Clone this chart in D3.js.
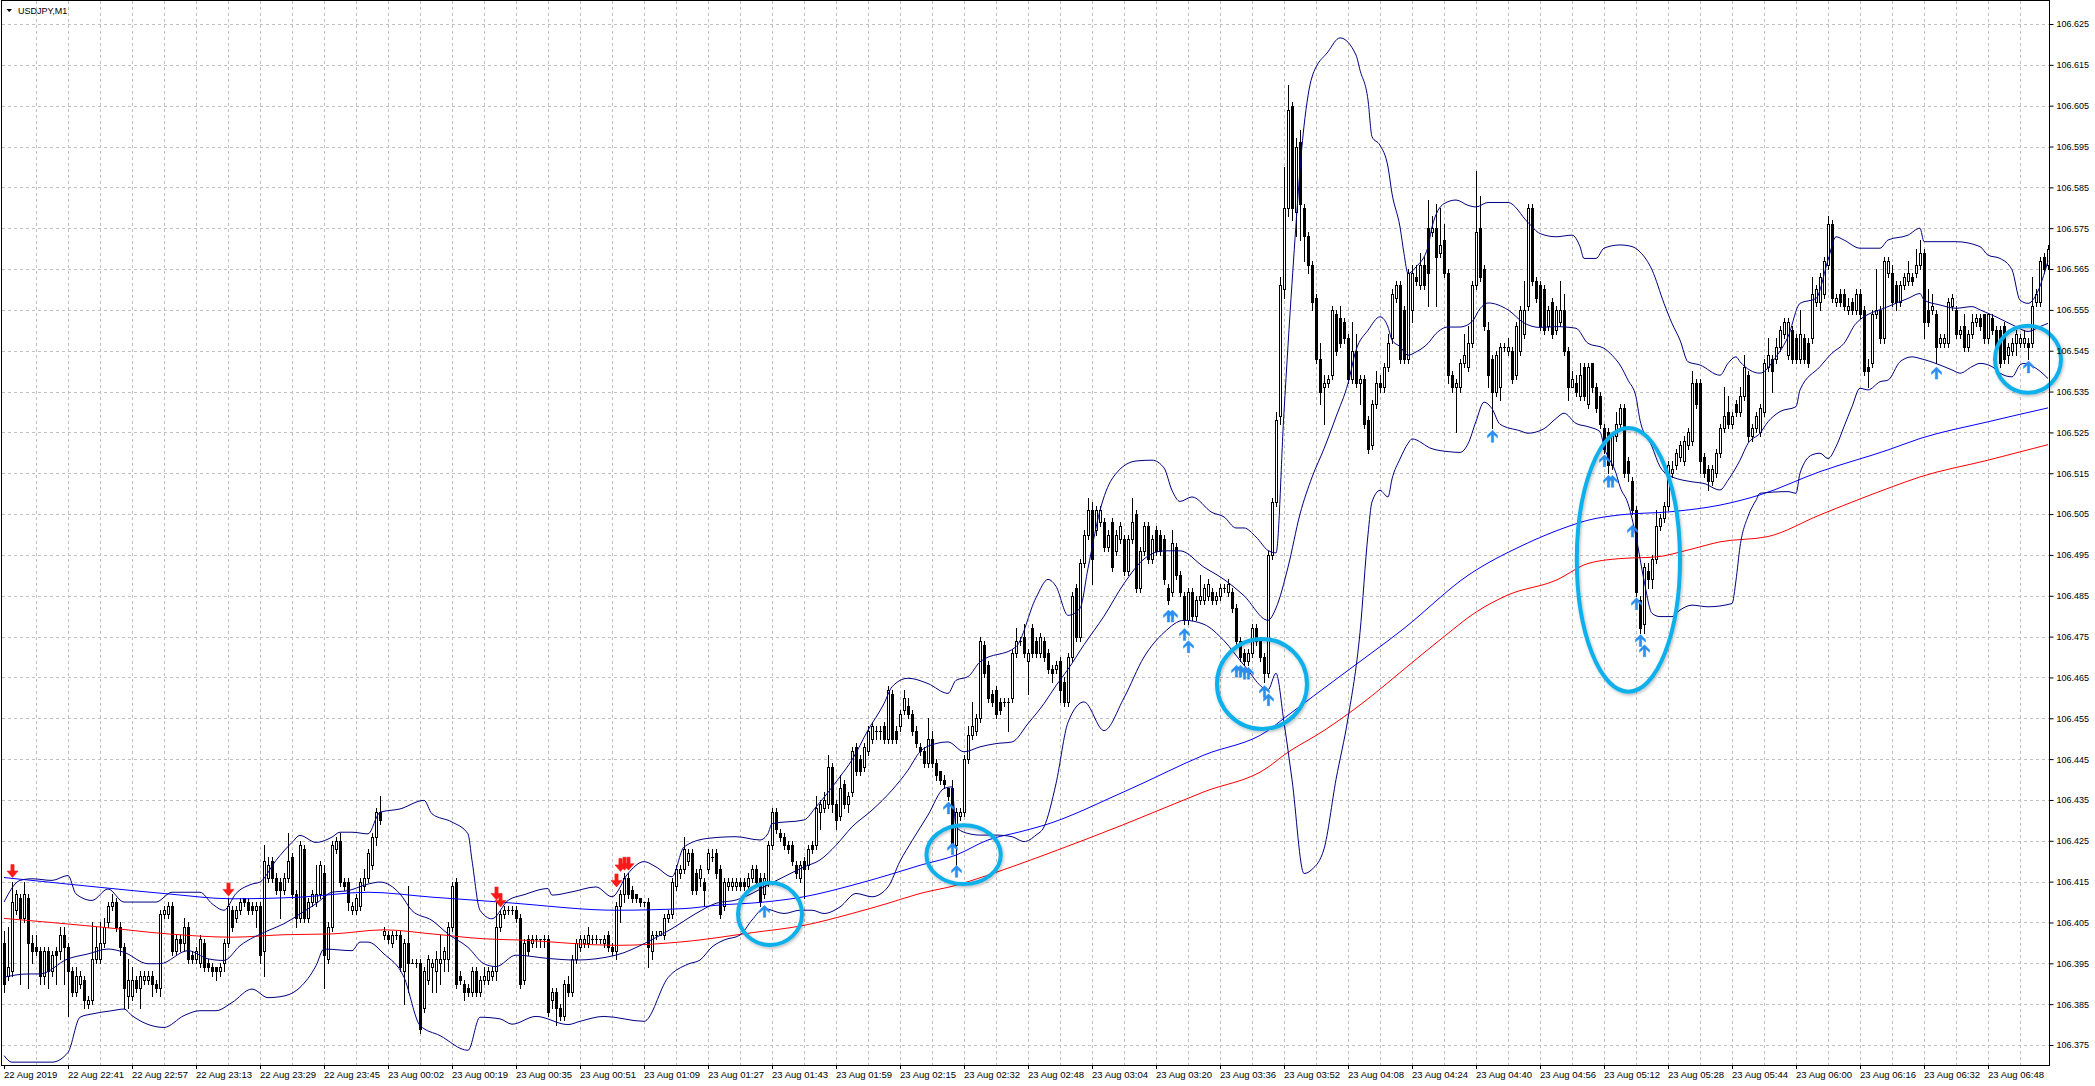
<!DOCTYPE html>
<html><head><meta charset="utf-8">
<script src="https://cdn.jsdelivr.net/npm/d3@7"></script>
<style>
html,body{margin:0;padding:0;background:#fff;overflow:hidden}
svg{display:block}
text{font-family:"Liberation Sans",Arial,sans-serif;font-size:9px;fill:#000}
.xaxis text{font-size:9.5px}
</style></head><body>
<svg id="chart" width="2095" height="1086"></svg>
<script>
// ---------------- DATA ----------------
const symbolTitle = "USDJPY,M1";
const priceBase = 106;          // candle values are in 0.001 above 106.000
const timeLabels = ["22 Aug 2019","22 Aug 22:41","22 Aug 22:57","22 Aug 23:13","22 Aug 23:29","22 Aug 23:45","23 Aug 00:02","23 Aug 00:19","23 Aug 00:35","23 Aug 00:51","23 Aug 01:09","23 Aug 01:27","23 Aug 01:43","23 Aug 01:59","23 Aug 02:15","23 Aug 02:32","23 Aug 02:48","23 Aug 03:04","23 Aug 03:20","23 Aug 03:36","23 Aug 03:52","23 Aug 04:08","23 Aug 04:24","23 Aug 04:40","23 Aug 04:56","23 Aug 05:12","23 Aug 05:28","23 Aug 05:44","23 Aug 06:00","23 Aug 06:16","23 Aug 06:32","23 Aug 06:48"];
const barsPerLabel = 16;
const priceTicks = ["106.625","106.615","106.605","106.595","106.585","106.575","106.565","106.555","106.545","106.535","106.525","106.515","106.505","106.495","106.485","106.475","106.465","106.455","106.445","106.435","106.425","106.415","106.405","106.395","106.385","106.375"];

const opens = [
400,392,393,408,411,406,411,400,399,398,392,398,393,398,398,402,
399,393,388,390,391,385,386,396,396,400,405,409,410,404,399,387,
387,391,389,391,391,392,390,389,407,407,409,398,401,400,404,397,
396,395,400,395,394,394,393,395,400,408,406,408,411,410,409,408,
409,398,416,420,416,415,413,416,421,412,406,423,406,410,410,412,
417,396,404,423,425,415,415,408,408,409,414,416,419,426,432,402,
402,400,402,402,393,400,395,395,395,384,391,394,393,395,396,396,
404,415,392,390,389,388,393,388,391,391,392,393,404,407,408,408,
408,406,391,401,400,401,401,401,401,386,388,384,382,390,388,396,
399,400,400,401,401,401,400,402,399,398,409,412,416,413,412,411,
410,410,398,402,402,402,406,407,414,417,418,420,422,417,416,415,
418,421,422,418,409,414,414,414,415,415,414,416,418,416,412,415,
424,432,427,426,424,424,419,416,420,419,424,424,432,433,434,443,
434,431,439,434,437,448,445,443,447,450,452,452,453,450,461,452,
453,457,458,456,452,448,447,444,450,444,442,440,438,438,424,431,
432,445,451,452,455,473,468,461,462,459,459,459,460,471,474,475,
469,477,474,471,474,471,467,467,469,464,459,470,487,475,493,500,
506,501,503,503,497,503,496,499,499,491,499,505,487,496,502,494,
501,500,499,487,486,497,490,485,479,486,480,484,484,485,486,484,
485,487,486,486,482,474,471,469,471,477,474,470,466,495,508,529,
560,580,605,579,596,580,573,566,558,543,536,537,539,554,553,552,
548,538,545,537,538,528,522,532,537,536,541,548,558,561,555,543,
555,563,561,566,575,574,575,569,572,564,539,536,536,542,541,547,
561,575,565,550,543,535,536,546,545,545,539,545,549,556,580,562,
561,560,551,557,550,552,555,545,536,537,534,541,532,542,536,534,
526,525,517,524,527,531,518,513,506,484,478,491,489,494,502,504,
507,515,517,519,518,522,523,537,537,519,516,513,515,520,526,530,
527,532,530,534,539,524,526,525,530,541,543,543,546,549,544,550,
548,543,548,547,548,557,557,559,566,576,557,559,559,555,557,555,
559,555,541,542,554,555,548,564,564,561,557,561,562,563,564,566,
569,555,555,554,547,547,547,556,555,549,551,546,549,552,553,554,
548,553,550,550,551,544,545,547,547,547,547,547,557,557,568,566];

const highs = [
403,404,415,413,412,415,412,402,402,399,399,399,398,399,404,404,
400,394,394,393,392,387,405,404,405,406,410,412,411,405,400,396,
394,392,393,393,393,393,391,408,409,410,410,402,402,406,405,398,
399,402,401,396,395,394,395,401,411,409,409,411,411,411,410,410,
410,424,421,421,417,416,417,427,422,413,425,424,411,413,419,420,
419,405,425,426,427,416,416,410,412,416,418,423,427,433,436,404,
403,403,403,403,401,414,396,396,396,394,397,396,398,402,399,405,
415,416,393,391,390,394,394,392,394,394,394,410,408,409,409,409,
409,407,401,402,402,402,401,402,402,389,389,385,391,392,397,401,
402,402,404,402,402,401,402,403,400,410,413,417,417,414,412,411,
410,411,403,403,403,407,408,416,419,419,426,423,423,418,419,416,
423,423,423,419,416,416,416,416,416,416,417,419,419,417,417,425,
433,433,428,427,425,425,420,420,421,424,425,436,435,437,446,444,
435,441,440,437,448,449,446,449,453,454,453,453,454,463,462,453,
457,462,460,457,453,449,448,455,452,445,442,441,438,440,433,433,
446,453,459,456,475,474,469,462,463,460,460,460,472,477,475,478,
472,478,475,476,475,472,468,469,470,465,471,486,488,494,501,509,
508,507,507,504,501,504,501,503,500,500,509,506,497,503,503,500,
502,501,500,488,501,498,491,486,487,487,485,490,488,489,487,486,
488,488,489,487,483,475,472,472,478,478,475,471,496,509,530,563,
590,610,606,597,599,581,574,567,559,547,539,539,556,555,556,553,
549,552,549,539,539,529,533,540,539,542,549,560,562,562,556,565,
566,566,569,568,582,578,581,580,576,565,540,538,543,549,551,562,
589,583,566,552,544,545,547,547,548,546,552,556,562,581,581,563,
562,561,556,558,556,562,559,546,540,539,542,542,542,542,537,535,
527,526,525,530,532,532,519,514,507,485,493,493,495,506,505,508,
518,518,521,523,524,526,540,538,538,520,517,517,521,527,536,534,
530,533,536,544,540,527,530,532,543,548,544,548,551,553,553,551,
549,555,549,548,563,561,564,568,578,577,559,560,560,558,558,560,
560,556,543,555,565,556,568,568,566,562,562,564,567,564,570,572,
570,560,559,555,549,549,558,559,556,551,554,550,554,554,554,554,
554,554,551,551,552,547,548,550,549,550,548,563,560,568,569,571];

const lows = [
388,391,392,407,390,405,389,395,397,390,390,389,392,390,396,390,
382,387,387,389,384,384,385,395,395,399,404,408,403,397,384,384,
386,388,384,390,390,387,388,387,406,406,397,397,398,398,395,395,
395,394,393,393,392,391,392,393,399,403,405,407,409,407,407,404,
395,392,415,415,412,406,412,415,411,404,405,405,405,409,409,411,
389,395,403,422,414,413,408,407,407,408,413,415,418,424,429,401,
400,399,401,393,385,388,395,394,378,383,390,388,388,390,393,393,
403,389,390,386,387,387,387,387,390,390,391,391,403,406,407,407,
405,389,390,397,399,399,399,399,382,384,380,381,381,387,387,395,
398,399,399,400,400,400,399,398,397,396,405,410,411,410,410,409,
409,394,396,401,402,401,405,406,413,416,417,419,412,412,414,409,
417,420,416,406,408,413,413,413,413,413,413,415,414,409,411,414,
423,427,425,423,422,419,416,415,411,418,422,423,428,432,433,432,
428,430,433,432,436,441,441,442,446,449,450,450,449,449,449,449,
452,456,455,451,448,446,443,443,443,440,439,438,435,422,419,430,
431,444,450,451,454,465,459,458,455,456,458,452,459,470,473,470,
461,470,470,470,469,466,464,466,459,458,458,469,474,474,492,499,
488,500,502,496,496,491,495,498,490,490,498,486,486,495,493,493,
495,495,488,483,485,489,485,478,478,479,479,483,483,484,483,483,
484,486,485,481,473,469,468,468,470,473,469,464,465,494,507,527,
558,578,577,573,572,567,564,555,542,532,527,536,538,544,546,547,
537,537,536,532,526,520,521,531,535,535,540,547,557,542,542,542,
552,561,560,560,556,573,556,568,563,537,535,525,535,541,540,546,
560,562,550,536,526,534,533,545,544,537,538,544,548,555,561,557,
550,549,550,548,549,551,544,533,536,534,533,533,531,535,530,526,
520,515,516,523,526,514,513,505,485,476,476,487,487,493,501,503,
506,514,516,518,517,521,522,531,515,514,511,512,514,519,525,526,
526,529,529,533,523,523,525,524,529,540,535,542,545,548,543,542,
542,542,542,541,547,556,555,558,565,557,556,556,555,554,554,554,
553,539,536,541,553,547,547,563,556,555,556,560,561,561,563,565,
548,551,554,542,546,546,546,555,548,548,545,545,548,551,550,547,
547,549,541,541,542,542,544,544,546,546,543,546,556,556,564,565];

const closes = [
390,394,410,412,406,412,400,398,398,392,398,393,397,397,402,399,
393,388,392,392,386,386,396,399,400,404,409,410,404,399,389,391,
391,389,392,392,392,390,389,407,408,409,398,401,400,404,396,396,
398,401,394,394,393,393,394,400,409,404,408,410,410,408,408,409,
397,420,419,416,413,413,416,420,412,406,424,406,410,412,412,419,
397,404,424,425,415,414,410,409,411,415,416,422,426,432,430,403,
401,402,402,394,400,395,395,395,379,393,396,395,396,396,398,404,
414,390,391,388,388,393,388,391,392,393,393,404,407,408,408,408,
406,390,400,398,401,401,401,401,383,388,384,382,390,388,396,400,
401,401,402,401,401,401,401,399,398,409,412,416,412,411,411,410,
410,399,402,402,403,406,407,415,418,418,423,422,413,413,418,413,
422,421,417,407,415,415,415,415,414,414,416,418,415,410,416,424,
432,428,426,424,423,420,417,419,418,423,423,433,434,435,443,434,
430,438,434,436,447,442,442,448,452,453,452,452,450,462,450,450,
456,460,456,452,449,447,444,450,444,441,440,439,436,424,432,432,
445,451,453,455,474,466,460,459,456,457,459,459,471,474,474,471,
471,471,471,475,470,467,466,468,462,459,470,485,475,493,500,506,
494,506,506,497,500,492,500,502,491,499,503,487,496,502,494,499,
496,496,489,484,498,490,486,479,486,480,484,485,487,488,484,485,
487,487,488,482,474,470,469,471,477,474,470,466,495,508,528,561,
580,604,580,595,581,573,566,557,543,535,537,538,555,545,547,548,
538,545,537,538,527,521,532,537,536,541,547,559,561,543,543,564,
564,562,566,561,564,575,568,571,564,539,536,537,542,544,547,561,
574,563,551,539,535,544,546,546,546,538,551,555,555,580,562,558,
551,550,555,549,555,555,545,536,538,535,539,534,541,536,531,527,
521,517,524,527,531,515,515,506,486,477,492,489,494,502,504,507,
517,516,520,522,523,525,537,532,518,515,513,516,520,526,529,527,
529,530,534,541,524,526,529,531,542,544,540,546,550,552,552,543,
543,549,543,542,559,560,563,567,576,558,558,557,556,556,555,559,
554,540,540,554,555,548,567,567,557,557,561,563,564,562,566,569,
552,552,556,546,548,548,557,558,549,550,546,549,552,553,551,548,
554,550,545,542,543,546,547,549,548,548,546,556,559,567,565,570];

// Bollinger bands (20) read at [bar, value]
const bandUpper = [[0,410],[4,415.3],[7,415.7],[12,415.3],[16,416.5],[18,412],[22,410.4],[26,413.2],[30,410],[38,410],[42,412.4],[49,412.4],[52,409.6],[55,408],[58,412.1],[62,414.4],[64,414.9],[68,420.2],[72,424.6],[74,426.3],[78,424.6],[82,425.9],[84,427.1],[87,427.1],[91,426.7],[94,432],[99,432.8],[105,434.9],[107,431.6],[112,429.6],[116,426.7],[117,420.2],[119,408],[122,405.9],[126,410.4],[130,411.8],[136,413.3],[137,411.7],[142,412.5],[148,413.7],[152,411.3],[156,417],[160,419.9],[163,418.6],[167,416.2],[170,423.5],[176,425.6],[183,426],[189,425.2],[191,426.8],[192,429.2],[200,430.1],[203,433.3],[209,440.7],[212,444.8],[216,452.1],[220,458.6],[222,462.7],[226,464.8],[231,463.5],[236,461.1],[238,464.3],[241,465.2],[244,468.8],[253,472.5],[258,484.5],[261,489],[263,487.3],[266,480.2],[269,481.9],[271,491.7],[274,505.9],[277,513.6],[283,518],[287,518.2],[290,516.3],[292,510.8],[294,508.1],[297,509.2],[302,505.4],[305,504.3],[308,501.6],[310,501.6],[313,499.4],[316,496.1],[318,495.5],[320,530],[322,561.5],[325,600],[327,612],[331,618.2],[334,621.6],[338,617.4],[339,613.7],[341,606.4],[342,597.4],[344,595.3],[346,590],[347,583.5],[349,575.3],[350,568.8],[351,563.9],[353,565.5],[356,570.4],[357,575.3],[360,581],[363,581.9],[366,580.6],[368,580.2],[371,581.3],[376,581.3],[381,576.4],[384,573.7],[388,572.9],[392,573.3],[394,570.5],[395,567.6],[398,567.6],[400,570.1],[404,570.9],[407,570.5],[409,569.2],[412,564.8],[415,556.6],[417,551.7],[419,547.6],[421,542.3],[424,541.5],[429,539],[431,541.9],[433,543.5],[434,542.3],[439,539.5],[443,543.5],[446,548.4],[449,556.6],[453,557.8],[456,567.2],[458,572.9],[460,572.1],[464,570.1],[469,570.1],[471,572.1],[476,573.3],[479,575],[480,571.7],[488,571.7],[494,570.5],[496,568.4],[499,567.6],[502,564.8],[504,557.4],[506,556.6],[508,558.6],[511,567]];
const bandMiddle = [[0,391.6],[6,392.4],[9,392.4],[16,396.1],[21,397.3],[26,398.5],[30,397.7],[36,394.9],[39,394.9],[46,398.1],[51,396.1],[55,395.7],[59,399.3],[66,403],[70,404.7],[74,407.1],[78,409.6],[82,412.4],[86,412.8],[91,414.4],[94,414.9],[99,412],[102,407.9],[107,405.5],[111,402.2],[116,398.9],[120,394.9],[123,394.2],[128,397],[136,396.2],[143,395.8],[153,397],[161,400.3],[167,403.5],[173,407.2],[178,409.7],[183,410.5],[187,412.1],[190,413.7],[195,416.2],[200,418.6],[204,420.3],[208,423.9],[212,428.4],[217,432.5],[222,437.4],[226,442.3],[229,446.8],[233,448.8],[236,449.2],[240,446.8],[244,448],[248,448.8],[252,449.2],[256,453.7],[260,458.6],[263,463],[266,467],[270,473],[275,480],[280,488],[285,494],[290,496],[294,496],[300,492],[305,489],[310,485],[316,479],[318,482],[321,492],[324,505],[327,514],[330,521],[333,528.8],[336,537],[338,545.1],[341,550],[344,553.3],[346,550.8],[347,547.6],[349,546],[351,543.9],[353,544.7],[356,546.8],[358,549.2],[361,550.8],[364,550.8],[367,552.1],[369,555.3],[371,556.7],[376,555],[380,551.8],[384,550.7],[388,550.9],[393,550.5],[396,546.8],[400,545.6],[402,543.9],[404,541.5],[406,537.8],[408,533.7],[409,528],[412,521.5],[414,516.6],[416,514.6],[422,512.9],[425,512.5],[429,510.9],[431,513.3],[434,518.2],[436,522.3],[439,524.8],[441,527.6],[444,530.1],[448,531.3],[449,535.4],[454,541.1],[457,544.4],[460,546.8],[463,551.7],[471,555.8],[476,557.8],[479,559],[480,557.4],[484,556.2],[488,555.4],[492,555.8],[494,555],[498,553.3],[503,550.9],[506,549.7],[509,550.9],[511,551.7]];
const bandLower = [[0,372.4],[2,370.8],[12,370.8],[16,373.2],[19,381.8],[22,382.6],[27,383.4],[30,383.8],[32,382.2],[40,379.3],[45,382.2],[49,383.4],[53,383.4],[57,385.4],[62,388.7],[66,386.6],[70,387],[74,389.1],[78,394.4],[80,398.5],[87,398.1],[89,400.2],[91,400.2],[95,397.3],[100,391.6],[104,379.8],[109,377.3],[116,373.7],[119,381.8],[124,381.4],[127,380.1],[133,382],[141,380],[144,380.8],[150,382],[160,380.8],[166,391.5],[171,394.8],[174,395.8],[177,399],[180,400.7],[184,401.9],[187,405.6],[190,408.4],[195,407.2],[199,408],[202,408],[205,407.2],[209,408.8],[213,412.1],[217,411.3],[221,413.7],[224,420],[227,425],[231,431.3],[235,437.8],[237,438.2],[238,428.4],[241,426.8],[244,426.4],[248,426.4],[252,426],[255,424.8],[258,426.4],[260,428.4],[263,439],[266,454],[270,459],[275,452],[280,460],[285,470],[290,476],[295,479],[300,478],[305,474],[310,468],[316,462],[318,466],[320,454],[322,440],[325,417],[327,418],[330,423],[333,440],[336,455],[339,476],[341,500],[342,508],[344,510.8],[346,509.2],[347,513.6],[349,518.5],[351,522.3],[352,523.4],[357,521],[361,520.3],[364,520.1],[366,522.2],[368,527.7],[370,532.4],[372,530.8],[374,527],[379,525.4],[381,524.8],[385,525.9],[388,528.4],[390,529.7],[393,527.2],[396,526.4],[399,525.2],[400,521.5],[403,515],[404,511.7],[406,507.6],[408,499.5],[410,488.8],[412,480.7],[414,479.9],[417,479.9],[419,481.5],[422,482.7],[426,482.3],[432,483.1],[433,488.8],[434,497],[436,504.4],[438,508.4],[439,510.1],[446,510.5],[448,510.1],[449,515],[452,519.5],[454,519.9],[456,518.6],[458,521.5],[460,526.4],[462,531.3],[464,535.8],[466,535.4],[469,537.4],[471,537.8],[474,542.3],[477,543.5],[479,543.1],[484,541.5],[487,540.3],[489,539.5],[492,541.1],[494,541.9],[497,541.1],[499,539.5],[502,538.6],[504,541.5],[505,541.9],[508,540.7],[511,538.2]];
// Moving averages read at [bar, value]
const maBlue = [[0,416],[24,413.6],[41,412],[57,410.8],[74,411.2],[91,412.4],[107,411.2],[124,410],[129,409.6],[153,408],[170,408.4],[178,409.2],[190,410],[200,411.3],[212,414.1],[221,416.6],[229,419],[238,421.5],[246,425.2],[254,427.2],[260,428.8],[280,437],[300,446],[316,452],[320,455],[335,466],[350,477],[366,490],[380,497.5],[390,501.6],[396,503.5],[404,504.8],[417,505.6],[429,507.2],[439,509.7],[454,515.4],[471,520.7],[479,523.5],[496,527.6],[511,531]];
const maRed = [[0,406],[24,403.9],[41,402.2],[57,401.4],[70,402],[82,402.2],[95,403.2],[107,402.2],[120,401],[129,400.7],[153,399.4],[170,400.3],[187,402.5],[200,404.3],[212,407.2],[221,409.7],[229,412.1],[238,414.1],[246,416.6],[260,421.5],[280,429],[300,437],[316,443],[320,446],[330,452],[340,459],[350,467],[360,475],[368,481],[376,485.2],[388,488.8],[396,492.9],[404,494.1],[413,494.5],[421,496.2],[429,498.2],[441,499.5],[454,504.8],[471,511.3],[479,514.1],[496,518.2],[511,522]];
// Signal arrows [bar, price at arrow tip]
const sellArrows = [[2,416],[56,411.5],[123,410.5],[124,408.8],[153,413.7],[154,417.5],[155,417.8],[156,417.8]];
const buyArrows = [[190,409.2],[236,434.5],[237,424.5],[238,419],[291,481.5],[292,481.5],[295,477],[296,474],[308,468],[309,468],[310,467.5],[311,467.5],[315,463],[316,461],[372,525.5],[400,519.5],[401,514.5],[402,514.5],[407,502.3],[408,484.5],[409,475.5],[410,473],[483,541],[506,542.5]];
// Highlight ellipses [centre bar, centre price, half-width in bars, half-height in 0.001]
const highlights = [[191.5,407.1,8,7.6],[239.9,421.6,9.3,7.2],[314.5,463.4,11.25,11],[406.1,493.8,12.9,32.3],[506,542.9,8.25,8.2]];

// ---------------- DRAWING ----------------
const W = 2095, H = 1086;
const plotL = 2, plotR = 2049.5, plotT = 0.5, plotB = 1065;
const nBars = closes.length;
const toP = v => priceBase + v / 1000;

const x = d3.scaleLinear().domain([-0.5, nBars - 0.5]).range([2, 2050]);
const y = d3.scaleLinear().domain([106.375, 106.625]).range([1045, 24]);

const svg = d3.select("#chart");
const defs = svg.append("defs");
defs.append("clipPath").attr("id","plotClip").append("rect")
  .attr("x", plotL).attr("y", plotT).attr("width", plotR - plotL).attr("height", plotB - plotT);
const sh = defs.append("filter").attr("id","soft").attr("x","-20%").attr("y","-20%").attr("width","140%").attr("height","140%");
sh.append("feDropShadow").attr("dx",1).attr("dy",1.5).attr("stdDeviation",1.6).attr("flood-color","#000").attr("flood-opacity",0.28);

svg.append("rect").attr("width", W).attr("height", H).attr("fill", "#fff");

const plot = svg.append("g").attr("clip-path","url(#plotClip)");

// grid
const grid = plot.append("g").attr("stroke","#c0c0c0").attr("stroke-width",1).attr("stroke-dasharray","3,3").attr("shape-rendering","crispEdges");
const tickVals = priceTicks.map(Number);
tickVals.forEach(p => {
  const yy = Math.round(y(p)) + 0.5;
  grid.append("line").attr("x1", plotL).attr("x2", plotR).attr("y1", yy).attr("y2", yy);
});
for (let i = 8; i < nBars; i += 8) {
  const xx = Math.round(x(i)) + 0.5;
  grid.append("line").attr("x1", xx).attr("x2", xx).attr("y1", plotT).attr("y2", plotB);
}

// candles
const cg = plot.append("g").attr("shape-rendering","crispEdges");
for (let i = 0; i < nBars; i++) {
  const o = opens[i], c = closes[i];
  const hi = Math.max(highs[i], o, c), lo = Math.min(lows[i], o, c);
  const cx = Math.round(x(i));
  const yHi = Math.round(y(toP(hi))), yLo = Math.round(y(toP(lo)));
  cg.append("line").attr("x1", cx + 0.5).attr("x2", cx + 0.5)
    .attr("y1", yHi).attr("y2", Math.max(yLo + 1, yHi + 1)).attr("stroke","#000");
  const yTop = Math.round(y(toP(Math.max(o, c)))), yBot = Math.round(y(toP(Math.min(o, c))));
  if (c > o) {
    cg.append("rect").attr("x", cx - 0.5).attr("y", yTop + 0.5)
      .attr("width", 2).attr("height", Math.max(yBot - yTop, 1))
      .attr("fill","#fff").attr("stroke","#000");
  } else if (c < o) {
    cg.append("rect").attr("x", cx - 1).attr("y", yTop)
      .attr("width", 3).attr("height", Math.max(yBot - yTop + 1, 2)).attr("fill","#000");
  } else {
    cg.append("rect").attr("x", cx - 1).attr("y", yTop).attr("width", 3).attr("height", 1).attr("fill","#000");
  }
}

// indicator lines
const line = d3.line().x(d => x(d[0])).y(d => y(toP(d[1]))).curve(d3.curveMonotoneX);
const lines = plot.append("g").attr("fill","none").attr("stroke-width",1);
lines.append("path").attr("d", line(maRed)).attr("stroke","#ff0000");
lines.append("path").attr("d", line(maBlue)).attr("stroke","#0000ff");
[bandUpper, bandMiddle, bandLower].forEach(b =>
  lines.append("path").attr("d", line(b)).attr("stroke","#000080"));

// arrows
const downArrow = "M0,0 L-5.5,-6.5 L-1.6,-6.5 L-1.6,-13 L1.6,-13 L1.6,-6.5 L5.5,-6.5 Z";
const upArrow = "M0,0 L5,5 L5,7.5 L1.2,4.2 L1.2,12 L-1.2,12 L-1.2,4.2 L-5,7.5 L-5,5 Z";
const ag = plot.append("g");
sellArrows.forEach(a => ag.append("path").attr("d", downArrow)
  .attr("transform", `translate(${Math.round(x(a[0])) + 0.5},${y(toP(a[1]))})`)
  .attr("fill","#ff1a1a").attr("stroke","#ff1a1a").attr("stroke-width",0.6).attr("stroke-linejoin","round"));
buyArrows.forEach(a => ag.append("path").attr("d", upArrow)
  .attr("transform", `translate(${Math.round(x(a[0])) + 0.5},${y(toP(a[1]))})`)
  .attr("fill","#2a8ff0").attr("stroke","#2a8ff0").attr("stroke-width",0.5).attr("stroke-linejoin","round"));

// highlight ellipses
const barW = x(1) - x(0);
const hg = svg.append("g").attr("fill","none").attr("stroke","#0fb0ea").attr("stroke-width",4).attr("filter","url(#soft)");
highlights.forEach(h => {
  hg.append("ellipse")
    .attr("cx", x(h[0])).attr("cy", y(toP(h[1])))
    .attr("rx", h[2] * barW)
    .attr("ry", y(toP(h[1] - h[3])) - y(toP(h[1])));
});

// frame
svg.append("rect").attr("x", 1.5).attr("y", 0.5).attr("width", plotR - 1.5).attr("height", plotB - 0.5)
  .attr("fill","none").attr("stroke","#000").attr("shape-rendering","crispEdges");

// right price axis
const yAxis = d3.axisRight(y).tickValues(tickVals).tickFormat(d3.format(".3f")).tickSizeInner(4).tickSizeOuter(0).tickPadding(3);
const ya = svg.append("g").attr("transform", `translate(${plotR},0)`).call(yAxis);
ya.select(".domain").remove();
ya.selectAll("line").attr("stroke","#000");

// bottom time axis
const labelBars = timeLabels.map((_, k) => k * barsPerLabel);
const xAxis = d3.axisBottom(x).tickValues(labelBars).tickFormat(i => timeLabels[i / barsPerLabel]).tickSizeInner(4).tickSizeOuter(0).tickPadding(2);
const xa = svg.append("g").attr("class","xaxis").attr("transform", `translate(0,${plotB})`).call(xAxis);
xa.select(".domain").remove();
xa.selectAll("line").attr("stroke","#000");
xa.selectAll("text").attr("text-anchor","start").attr("x", -0.5);

// title
svg.append("path").attr("d","M6.5,9 L12,9 L9.25,12 Z").attr("fill","#000");
svg.append("text").attr("x", 18).attr("y", 14).text(symbolTitle);
</script>
</body></html>
